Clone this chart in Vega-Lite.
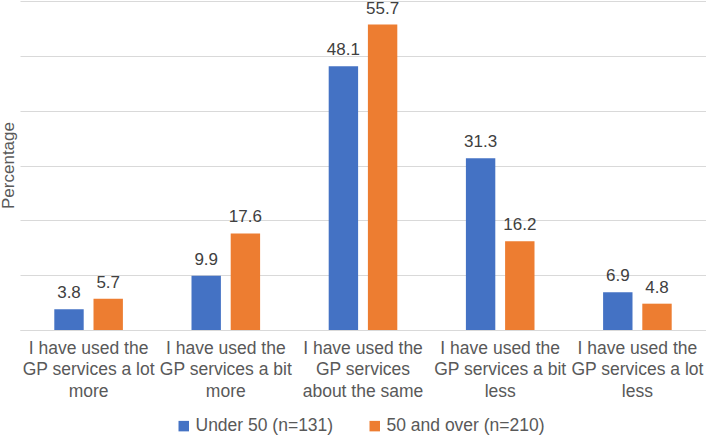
{
  "$schema": "https://vega.github.io/schema/vega-lite/v6.json",
  "width": 686,
  "height": 329,
  "autosize": {"type": "none"},
  "padding": {"left": 20, "top": 1, "right": 0, "bottom": 106},
  "config": {
    "view": {"stroke": null},
    "font": "Liberation Sans",
    "axis": {"labelFont": "Liberation Sans", "titleFont": "Liberation Sans"},
    "legend": {"labelFont": "Liberation Sans"}
  },
  "data": {
    "values": [
      {"category": "I have used the GP services a lot more", "group": "Under 50 (n=131)", "value": 3.8},
      {"category": "I have used the GP services a lot more", "group": "50 and over (n=210)", "value": 5.7},
      {"category": "I have used the GP services a bit more", "group": "Under 50 (n=131)", "value": 9.9},
      {"category": "I have used the GP services a bit more", "group": "50 and over (n=210)", "value": 17.6},
      {"category": "I have used the GP services about the same", "group": "Under 50 (n=131)", "value": 48.1},
      {"category": "I have used the GP services about the same", "group": "50 and over (n=210)", "value": 55.7},
      {"category": "I have used the GP services a bit less", "group": "Under 50 (n=131)", "value": 31.3},
      {"category": "I have used the GP services a bit less", "group": "50 and over (n=210)", "value": 16.2},
      {"category": "I have used the GP services a lot less", "group": "Under 50 (n=131)", "value": 6.9},
      {"category": "I have used the GP services a lot less", "group": "50 and over (n=210)", "value": 4.8}
    ]
  },
  "encoding": {
    "x": {
      "field": "category",
      "type": "nominal",
      "sort": null,
      "title": null,
      "scale": {"paddingInner": 0.5, "paddingOuter": 0.25},
      "axis": {
        "labelAngle": 0,
        "domain": true,
        "domainColor": "#d9d9d9",
        "domainWidth": 1,
        "ticks": false,
        "labelPadding": 9,
        "labelFontSize": 17.5,
        "labelColor": "#595959",
        "labelLineHeight": 21.5,
        "labelLimit": 200,
        "labelExpr": "datum.value == 'I have used the GP services a lot more' ? ['I have used the', 'GP services a lot', 'more'] : datum.value == 'I have used the GP services a bit more' ? ['I have used the', 'GP services a bit', 'more'] : datum.value == 'I have used the GP services about the same' ? ['I have used the', 'GP services', 'about the same'] : datum.value == 'I have used the GP services a bit less' ? ['I have used the', 'GP services a bit', 'less'] : ['I have used the', 'GP services a lot', 'less']"
      }
    },
    "xOffset": {
      "field": "group",
      "type": "nominal",
      "sort": ["Under 50 (n=131)", "50 and over (n=210)"],
      "scale": {"paddingInner": 0.25}
    },
    "y": {
      "field": "value",
      "type": "quantitative",
      "scale": {"domain": [0, 60]},
      "title": "Percentage",
      "axis": {
        "labels": false,
        "ticks": false,
        "domain": false,
        "tickCount": 6,
        "gridColor": "#d9d9d9",
        "gridWidth": 1,
        "titleFontSize": 17,
        "titleFontWeight": "normal",
        "titleColor": "#595959",
        "titleBaseline": "middle",
        "titleX": -12,
        "titleY": 164
      }
    }
  },
  "layer": [
    {
      "mark": {"type": "bar"},
      "encoding": {
        "color": {
          "field": "group",
          "type": "nominal",
          "sort": ["Under 50 (n=131)", "50 and over (n=210)"],
          "scale": {"domain": ["Under 50 (n=131)", "50 and over (n=210)"], "range": ["#4472C4", "#ED7D31"]},
          "legend": {
            "orient": "none",
            "direction": "horizontal",
            "title": null,
            "legendX": 155,
            "legendY": 416,
            "symbolType": "square",
            "symbolSize": 110,
            "symbolStrokeWidth": 0,
            "labelFontSize": 17.5,
            "labelColor": "#595959",
            "columnPadding": 32,
            "labelOffset": 3
          }
        }
      }
    },
    {
      "mark": {"type": "text", "dy": -16, "fontSize": 17, "color": "#404040"},
      "encoding": {
        "text": {"field": "value", "type": "quantitative", "format": ".1f"}
      }
    }
  ]
}
